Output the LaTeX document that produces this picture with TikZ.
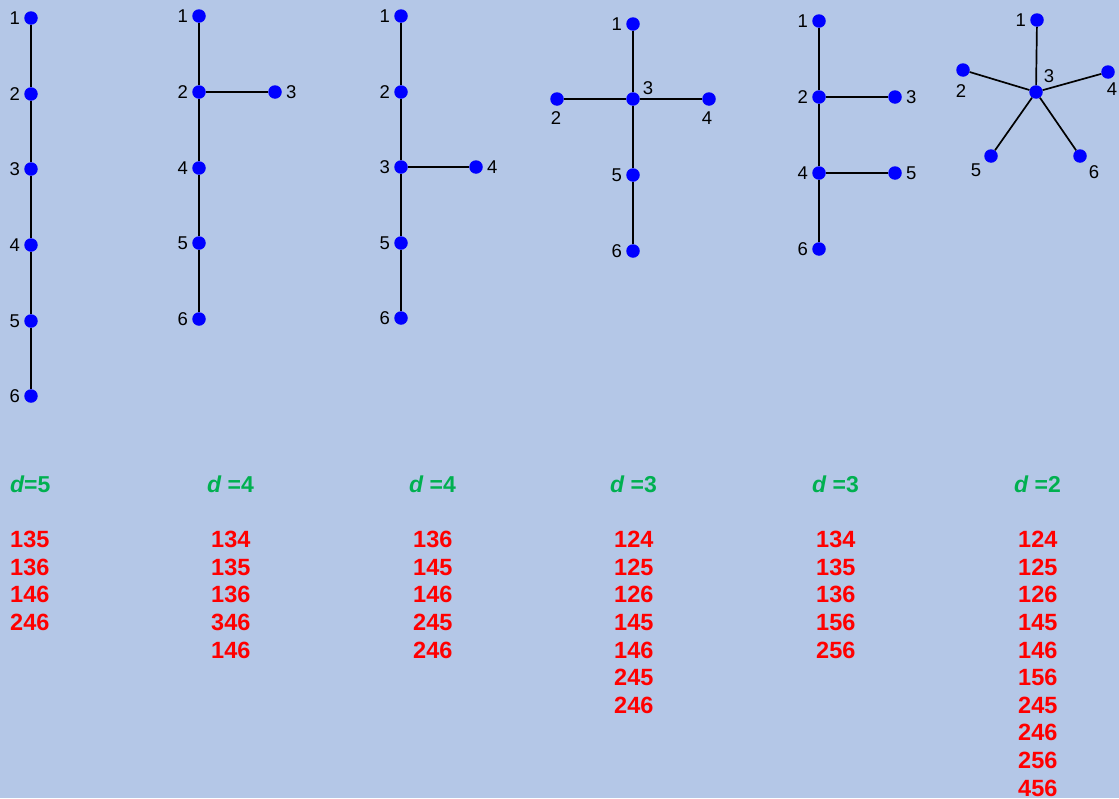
\documentclass[tikz,border=0pt]{standalone}
\usepackage{fontspec}
\setmainfont{Liberation Sans}
\definecolor{bg}{RGB}{180,199,231}
\definecolor{dgreen}{RGB}{0,176,80}
\definecolor{vblue}{RGB}{0,0,255}
\begin{document}
\begin{tikzpicture}[x=1pt,y=-1pt,
  v/.style={circle,fill=vblue,minimum size=13.5pt,inner sep=0pt},
  e/.style={line width=1.7pt,black},
  lab/.style={font=\fontsize{18.5}{18.5}\selectfont,inner sep=1pt,text=black},
  dl/.style={font=\fontsize{23}{23}\selectfont\bfseries,text=dgreen,anchor=west,inner sep=0pt},
  nl/.style={font=\fontsize{23.5}{27.6}\selectfont\bfseries,text=red,anchor=north west,inner sep=0pt,align=left}]
\fill[bg] (0,0) rectangle (1119,798);
\useasboundingbox (0,0) rectangle (1119,798);
% graph 1: path
\foreach \i/\y in {1/18,2/94,3/169,4/245,5/321,6/396}{
  \node[v,label={[lab,label distance=3pt]left:\i}] (a\i) at (31,\y) {};}
\draw[e] (a1)--(a2)--(a3)--(a4)--(a5)--(a6);
% graph 2
\foreach \i/\y in {1/16,2/92,4/168,5/243,6/319}{
  \node[v,label={[lab,label distance=3pt]left:\i}] (b\i) at (199,\y) {};}
\node[v,label={[lab,label distance=3pt]right:3}] (b3) at (275,92) {};
\draw[e] (b1)--(b2)--(b4)--(b5)--(b6);
\draw[e] (b2)--(b3);
% graph 3
\foreach \i/\y in {1/16,2/92,3/167,5/243,6/318}{
  \node[v,label={[lab,label distance=3pt]left:\i}] (c\i) at (401,\y) {};}
\node[v,label={[lab,label distance=3pt]right:4}] (c4) at (476,167) {};
\draw[e] (c1)--(c2)--(c3)--(c5)--(c6);
\draw[e] (c3)--(c4);
% graph 4: cross
\node[v,label={[lab,label distance=3pt]left:1}] (d1) at (633,24) {};
\node[v] (d3) at (633,99) {};
\node[v] (d2) at (557,99) {};
\node[v] (d4) at (709,99) {};
\node[v,label={[lab,label distance=3pt]left:5}] (d5) at (633,175) {};
\node[v,label={[lab,label distance=3pt]left:6}] (d6) at (633,251) {};
\node[lab] (d3l) at (648,88) {3};
\node[lab] (d2l) at (556,118) {2};
\node[lab] (d4l) at (707,118) {4};
\draw[e] (d1)--(d3)--(d5)--(d6);
\draw[e] (d2)--(d3)--(d4);
% graph 5: comb
\foreach \i/\y in {1/21,2/97,4/173,6/249}{
  \node[v,label={[lab,label distance=3pt]left:\i}] (f\i) at (819,\y) {};}
\node[v,label={[lab,label distance=3pt]right:3}] (f3) at (895,97) {};
\node[v,label={[lab,label distance=3pt]right:5}] (f5) at (895,173) {};
\draw[e] (f1)--(f2)--(f4)--(f6);
\draw[e] (f2)--(f3);
\draw[e] (f4)--(f5);
% graph 6: star
\node[v] (g3) at (1036,92) {};
\node[v,label={[lab,label distance=3pt]left:1}] (g1) at (1037,20) {};
\node[v] (g2) at (963,70) {};
\node[v] (g4) at (1108,72) {};
\node[v] (g5) at (991,156) {};
\node[v] (g6) at (1080,156) {};
\node[lab] (g3l) at (1049,76) {3};
\node[lab] (g2l) at (961,91) {2};
\node[lab] (g4l) at (1112,89) {4};
\node[lab] (g5l) at (976,170) {5};
\node[lab] (g6l) at (1094,172) {6};
\foreach \j in {1,2,4,5,6}{\draw[e] (g3)--(g\j);}
% diameters
\node[dl] (t1) at (10,484) {\itshape d\upshape=5};
\node[dl] (t2) at (207,484) {\itshape d \upshape=4};
\node[dl] (t3) at (409,484) {\itshape d \upshape=4};
\node[dl] (t4) at (610,484) {\itshape d \upshape=3};
\node[dl] (t5) at (812,484) {\itshape d \upshape=3};
\node[dl] (t6) at (1014,484) {\itshape d \upshape=2};
% lists
\node[nl] (n1) at (10,531) {135\\136\\146\\246};
\node[nl] (n2) at (211,531) {134\\135\\136\\346\\146};
\node[nl] (n3) at (413,531) {136\\145\\146\\245\\246};
\node[nl] (n4) at (614,531) {124\\125\\126\\145\\146\\245\\246};
\node[nl] (n5) at (816,531) {134\\135\\136\\156\\256};
\node[nl] (n6) at (1018,531) {124\\125\\126\\145\\146\\156\\245\\246\\256\\456};
\end{tikzpicture}
\end{document}
